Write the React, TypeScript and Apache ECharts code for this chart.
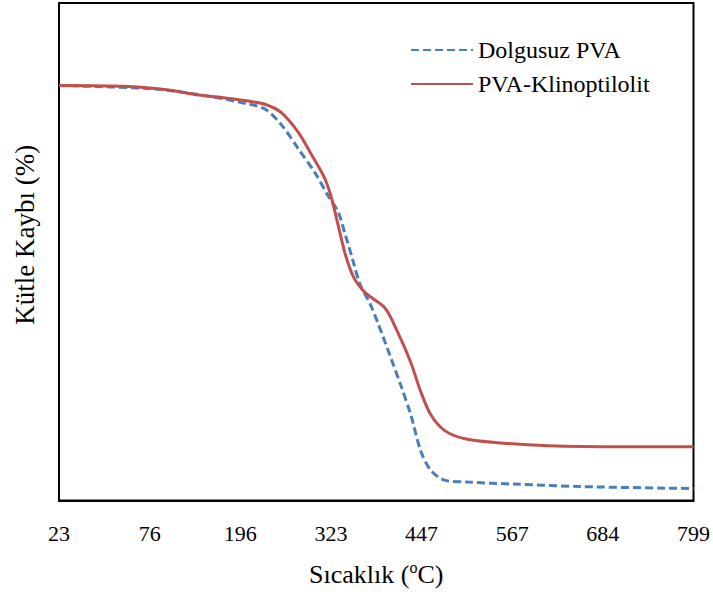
import React, { useEffect, useRef } from "react";
import * as echarts from "echarts";

// x positions are in tick-slot units (0 = 23 °C label, 7 = 799 °C label)
const tickLabels = ["23", "76", "196", "323", "447", "567", "684", "799"];

const seriesNames = ["Dolgusuz PVA", "PVA-Klinoptilolit"];

const dolgusuzPVA: [number, number][] = [
  [0, 83.4], [0.99, 82.8], [1.54, 81.6], [2.09, 79.7], [2.28, 78.6],
  [2.45, 75.6], [2.64, 70.7], [2.83, 65.7], [2.97, 61.2], [3.08, 58.0],
  [3.16, 53.3], [3.24, 48.4], [3.32, 43.5], [3.43, 39.6], [3.52, 35.6],
  [3.66, 28.7], [3.77, 23.2], [3.88, 17.3], [3.99, 10.0], [4.1, 6.1],
  [4.25, 4.1], [4.51, 3.7], [5.02, 3.3], [5.75, 2.8], [7, 2.4],
];

const pvaKlinoptilolit: [number, number][] = [
  [0, 83.4], [0.77, 83.2], [1.21, 82.5], [1.54, 81.5], [1.84, 80.9],
  [2.09, 80.3], [2.28, 79.6], [2.45, 78.0], [2.64, 74.0], [2.78, 69.7],
  [2.92, 65.2], [3.0, 61.2], [3.08, 55.3], [3.16, 49.4], [3.25, 44.9],
  [3.36, 42.1], [3.44, 40.9], [3.6, 38.6], [3.74, 33.7], [3.88, 27.8],
  [3.99, 21.9], [4.1, 17.3], [4.26, 14.0], [4.48, 12.4], [4.84, 11.6],
  [5.39, 11.0], [6.23, 10.8], [7, 10.8],
];

const FONT = "Liberation Serif";

export default function App() {
  const ref = useRef<HTMLDivElement>(null);
  useEffect(() => {
    if (!ref.current) return;
    const chart = echarts.init(ref.current, undefined, { renderer: "svg" });
    chart.setOption({
      animation: false,
      backgroundColor: "#fff",
      textStyle: { fontFamily: FONT, color: "#000" },
      grid: {
        left: 59,
        right: 14,
        top: 3,
        bottom: 81,
        show: true,
        borderColor: "#000",
        borderWidth: 2,
        backgroundColor: "transparent",
      },
      legend: {
        orient: "vertical",
        left: 410,
        top: 38,
        padding: 0,
        itemWidth: 62,
        itemHeight: 14,
        itemGap: 10,
        itemStyle: { opacity: 0 },
        textStyle: { fontFamily: FONT, fontSize: 24, color: "#000" },
        data: seriesNames,
      },
      xAxis: {
        type: "value",
        min: 0,
        max: 7,
        interval: 1,
        axisLine: { show: true, lineStyle: { color: "#000", width: 2 } },
        axisTick: { show: false },
        splitLine: { show: false },
        axisLabel: {
          fontFamily: FONT,
          fontSize: 22,
          color: "#000",
          margin: 22,
          formatter: (v: number) => tickLabels[Math.round(v)] ?? "",
        },
        name: "Sıcaklık ({sup|o}C)",
        nameLocation: "middle",
        nameGap: 59,
        nameTextStyle: {
          fontFamily: FONT,
          fontSize: 26,
          color: "#000",
          rich: {
            sup: { fontFamily: FONT, fontSize: 16, color: "#000", padding: [0, 0, 13, 0] },
          },
        },
      },
      yAxis: {
        type: "value",
        min: 0,
        max: 100,
        axisLine: { show: true, lineStyle: { color: "#000", width: 2 } },
        axisTick: { show: false },
        axisLabel: { show: false },
        splitLine: { show: false },
        name: "Kütle Kaybı (%)",
        nameLocation: "middle",
        nameGap: 21,
        nameTextStyle: {
          fontFamily: FONT,
          fontSize: 27,
          color: "#000",
          padding: [0, 0, 0, 34],
        },
      },
      series: [
        {
          name: seriesNames[0],
          type: "line",
          data: dolgusuzPVA,
          showSymbol: false,
          symbol: "none",
          smooth: 0.3,
          lineStyle: { color: "#4A7EBB", width: 3, type: [8, 4] },
          itemStyle: { color: "#4A7EBB" },
          z: 2,
        },
        {
          name: seriesNames[1],
          type: "line",
          data: pvaKlinoptilolit,
          showSymbol: false,
          symbol: "none",
          smooth: 0.3,
          lineStyle: { color: "#C0504D", width: 3 },
          itemStyle: { color: "#C0504D" },
          z: 3,
        },
      ],
    });
    return () => chart.dispose();
  }, []);
  return (
    <div
      ref={ref}
      style={{ position: "fixed", left: 0, top: 0, width: 713, height: 592 }}
    />
  );
}
